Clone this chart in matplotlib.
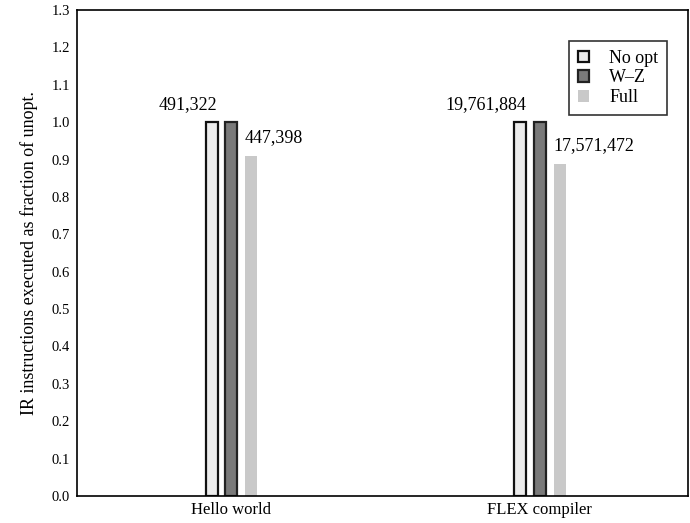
import numpy as np
import matplotlib
matplotlib.use("Agg")
import matplotlib.pyplot as plt

# data
categories = ["Hello world", "FLEX compiler"]
series = ["No opt", "W\u2013Z", "Full"]
no_opt = [1.0, 1.0]
wz = [1.0, 1.0]
full = [447398 / 491322, 17571472 / 19761884]
noopt_counts = ["491,322", "19,761,884"]
full_counts = ["447,398", "17,571,472"]
yticks = [round(0.1 * i, 1) for i in range(14)]

plt.rcParams["font.family"] = ["Liberation Serif", "DejaVu Serif"]

fig = plt.figure(figsize=(6.9, 5.23), dpi=100)
ax = fig.add_axes([77 / 690, 27 / 523, 611 / 690, 486 / 523])

x = np.arange(len(categories))
w = 0.039
step = 0.064
ax.bar(x - step, no_opt, w, color="#ececec", edgecolor="#111111", linewidth=1.6, label=series[0])
ax.bar(x, wz, w, color="#7a7a7a", edgecolor="#222222", linewidth=1.6, label=series[1])
ax.bar(x + step, full, w, color="#c9c9c9", edgecolor="none", label=series[2])

for i in range(len(categories)):
    ax.text(x[i] - step + w / 2, 1.025, noopt_counts[i], ha="right", va="bottom", fontsize=13)
    ax.text(x[i] + step - w / 2, full[i] + 0.025, full_counts[i], ha="left", va="bottom", fontsize=13)

ax.set_xlim(-0.5, 1.48)
ax.set_ylim(0, 1.3)
ax.set_yticks(yticks)
ax.set_yticklabels([f"{t:.1f}" for t in yticks], fontsize=10.5)
ax.set_xticks(x)
ax.set_xticklabels(categories, fontsize=12)
ax.tick_params(axis="y", length=0, pad=5)
ax.tick_params(axis="x", length=0, pad=4)
ax.set_ylabel("IR instructions executed as fraction of unopt.", fontsize=13, labelpad=10)
for s in ax.spines.values():
    s.set_linewidth(1.2)

leg = ax.legend(loc="upper right", bbox_to_anchor=(0.975, 0.948), fontsize=13,
                frameon=True, fancybox=False, edgecolor="black",
                handlelength=0.6, handleheight=0.6, handletextpad=1.1,
                labelspacing=0.15, borderpad=0.5, borderaxespad=0.3)
leg.get_frame().set_linewidth(1.2)

fig.savefig("out.png", dpi=100)
